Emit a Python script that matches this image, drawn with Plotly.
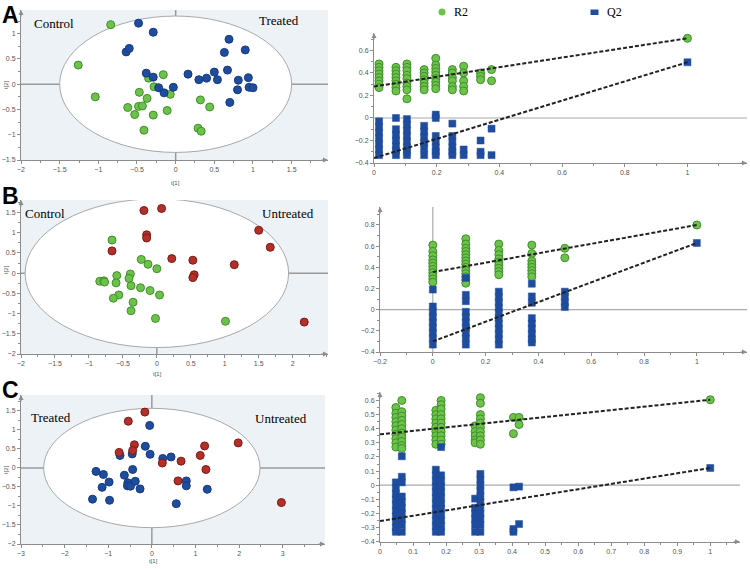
import plotly.graph_objects as go

W, H = 750, 569

# ---------------- data: score plots ----------------
A_ctrl_t1 = [-0.84, -1.26, -1.04, -0.47, -0.35, -0.16, -0.28, -0.37, -0.07, -0.62, -0.48, -0.43, -0.53, -0.29, -0.11, -0.41, 0.32, 0.44, 0.29, 0.33]
A_ctrl_t2 = [1.18, 0.38, -0.25, -0.16, 0.12, 0.19, -0.05, -0.28, -0.20, -0.46, -0.44, -0.43, -0.60, -0.61, -0.52, -0.91, -0.31, -0.45, -0.87, -0.93]
A_trt_t1 = [-0.48, -0.29, -0.64, -0.60, -0.38, -0.29, -0.22, -0.15, -0.03, 0.16, 0.30, 0.40, 0.50, 0.54, 0.67, 0.63, 0.69, 0.90, 0.81, 0.80, 0.70, 0.94, 0.95, 1.00]
A_trt_t2 = [1.21, 1.03, 0.64, 0.71, 0.22, 0.14, -0.07, -0.17, -0.06, 0.20, 0.09, 0.12, 0.24, 0.09, 0.28, 0.63, 0.89, 0.68, 0.08, -0.11, -0.36, 0.13, -0.06, -0.07]

B_ctrl_t1 = [-0.66, -0.23, -0.13, 0.00, -0.59, -0.39, -0.84, -0.78, -0.77, -0.60, -0.41, -0.38, -0.24, -0.10, 0.04, -0.56, -0.64, -0.35, -0.38, -0.02, 1.01]
B_ctrl_t2 = [0.82, 0.34, 0.22, 0.11, -0.06, -0.02, -0.20, -0.19, -0.22, -0.24, -0.13, -0.31, -0.36, -0.43, -0.54, -0.54, -0.62, -0.72, -0.93, -1.12, -1.19]
B_unt_t1 = [-0.19, 0.07, -0.15, -0.15, -0.66, 0.22, 0.53, 0.55, 0.53, 1.14, 1.50, 1.67, 2.17]
B_unt_t2 = [1.55, 1.60, 0.95, 0.87, 0.55, 0.36, 0.32, -0.04, -0.11, 0.21, 1.06, 0.64, -1.21]

C_trt_t1 = [-0.05, -0.15, -0.04, -0.73, -0.45, 0.25, 0.44, -1.28, -1.11, -0.44, -0.63, -0.98, -1.14, -0.55, -0.56, -0.49, -0.38, -0.27, -1.36, -0.97, 0.79, 0.79, 1.27, 0.56]
C_trt_t2 = [1.12, 0.57, 0.36, 0.33, 0.37, 0.25, 0.29, -0.09, -0.17, -0.04, -0.19, -0.37, -0.51, -0.39, -0.47, -0.48, -0.35, -0.55, -0.82, -0.85, -0.34, -0.47, -0.56, -0.94]
C_unt_t1 = [-0.16, -0.54, -0.40, -0.44, -0.75, 0.24, 0.67, 0.60, 1.21, 1.11, 1.24, 1.98, 2.97]
C_unt_t2 = [1.47, 1.23, 0.61, 0.46, 0.41, 0.13, 0.18, -0.34, 0.58, 0.33, -0.04, 0.66, -0.91]

# ---------------- data: permutation plots ----------------
A_cols = [0.016, 0.07, 0.105, 0.16, 0.197, 0.25, 0.286, 0.34, 0.375, 1.0]
A_r2 = [
    [0.48, 0.45, 0.42, 0.39, 0.36, 0.33, 0.30, 0.27],
    [0.45, 0.42, 0.39, 0.36, 0.33, 0.30, 0.27, 0.24],
    [0.48, 0.45, 0.42, 0.38, 0.35, 0.31, 0.28, 0.25, 0.17],
    [0.43, 0.40, 0.37, 0.34, 0.31, 0.28, 0.25],
    [0.53, 0.47, 0.44, 0.41, 0.38, 0.35, 0.32, 0.29, 0.26],
    [0.43, 0.40, 0.36, 0.33, 0.28, 0.25],
    [0.46, 0.40, 0.33, 0.28, 0.24],
    [0.40, 0.37, 0.34],
    [0.43, 0.33],
    [0.708],
]
A_q2 = [
    [-0.03, -0.08, -0.13, -0.18, -0.23, -0.28, -0.33],
    [0.00, -0.10, -0.15, -0.20, -0.25, -0.29, -0.33],
    [-0.01, -0.06, -0.11, -0.16, -0.21, -0.26, -0.30, -0.33],
    [-0.07, -0.12, -0.17, -0.22, -0.27, -0.33],
    [0.03, 0.00, -0.16, -0.21, -0.26, -0.30, -0.33],
    [-0.05, -0.16, -0.21, -0.26, -0.30, -0.33],
    [-0.28, -0.33],
    [-0.20, -0.30, -0.33],
    [-0.095, -0.33],
    [0.495],
]
A_fit_r2 = [0.28, 0.708]
A_fit_q2 = [-0.356, 0.495]

B_cols = [0.0, 0.125, 0.25, 0.375, 0.5, 1.0]
B_r2 = [
    [0.61, 0.55, 0.51, 0.47, 0.44, 0.41, 0.38, 0.35, 0.32, 0.29, 0.26],
    [0.67, 0.62, 0.58, 0.55, 0.52, 0.49, 0.46, 0.43, 0.40, 0.37, 0.34, 0.31, 0.28, 0.25],
    [0.62, 0.56, 0.52, 0.48, 0.45, 0.42, 0.39, 0.36, 0.33],
    [0.61, 0.53, 0.46, 0.43, 0.40, 0.37, 0.34, 0.31],
    [0.58, 0.49],
    [0.80],
]
B_q2 = [
    [0.19, 0.03, -0.02, -0.07, -0.12, -0.17, -0.22, -0.27, -0.33],
    [0.30, 0.14, 0.08, -0.02, -0.07, -0.12, -0.17, -0.22, -0.27, -0.33],
    [0.17, 0.12, 0.07, 0.02, -0.03, -0.08, -0.13, -0.18, -0.23, -0.28, -0.33],
    [0.245, 0.125, 0.065, -0.08, -0.13, -0.18, -0.23, -0.28, -0.31],
    [0.17, 0.12, 0.07, 0.025],
    [0.63],
]
B_fit_r2 = [0.355, 0.80]
B_fit_q2 = [-0.30, 0.63]

C_cols = [0.048, 0.066, 0.169, 0.185, 0.288, 0.304, 0.404, 0.421, 1.0]
C_r2 = [
    [0.55, 0.51, 0.48, 0.45, 0.42, 0.39, 0.36, 0.33, 0.30, 0.27],
    [0.60, 0.52, 0.49, 0.46, 0.43, 0.40, 0.37, 0.34, 0.31, 0.28, 0.26],
    [0.53, 0.50, 0.47, 0.44, 0.41, 0.38, 0.35, 0.32, 0.29],
    [0.60, 0.57, 0.54, 0.50, 0.47, 0.44, 0.41, 0.38, 0.35, 0.32, 0.29],
    [0.42, 0.38, 0.35, 0.32, 0.30],
    [0.62, 0.58, 0.50, 0.47, 0.44, 0.41, 0.38, 0.35, 0.32, 0.29],
    [0.48, 0.365],
    [0.48, 0.43],
    [0.605],
]
C_q2 = [
    [0.02, -0.02, -0.06, -0.10, -0.14, -0.18, -0.22, -0.26, -0.30, -0.33],
    [0.205, 0.06, 0.02, -0.08, -0.12, -0.16, -0.20, -0.24, -0.28, -0.33],
    [0.11, 0.07, 0.03, -0.01, -0.05, -0.09, -0.13, -0.17, -0.21, -0.25, -0.29, -0.33],
    [0.27, 0.07, 0.03, -0.01, -0.05, -0.09, -0.13, -0.17, -0.21, -0.25, -0.29, -0.33],
    [-0.095, -0.16, -0.20, -0.24, -0.28, -0.33],
    [0.08, 0.04, 0.00, -0.04, -0.08, -0.12, -0.16, -0.20, -0.24, -0.28, -0.33],
    [-0.015, -0.31, -0.33],
    [-0.01, -0.275],
    [0.122],
]
C_fit_r2 = [0.36, 0.605]
C_fit_q2 = [-0.254, 0.122]
fit_x = [0, 1]

# tick labels
A_score_xticks = [-2, -1.5, -1, -0.5, 0, 0.5, 1, 1.5]
A_score_yticks = [-1.5, -1, -0.5, 0, 0.5, 1]
B_score_xticks = [-2, -1.5, -1, -0.5, 0, 0.5, 1, 1.5, 2]
B_score_yticks = [-2, -1.5, -1, -0.5, 0, 0.5, 1, 1.5]
C_score_xticks = [-3, -2, -1, 0, 1, 2, 3]
C_score_yticks = [-2, -1.5, -1, -0.5, 0, 0.5, 1, 1.5]
A_perm_xticks = [0, 0.2, 0.4, 0.6, 0.8, 1]
A_perm_yticks = [-0.4, -0.2, 0, 0.2, 0.4, 0.6]
B_perm_xticks = [-0.2, 0, 0.2, 0.4, 0.6, 0.8, 1]
B_perm_yticks = [-0.4, -0.2, 0, 0.2, 0.4, 0.6, 0.8]
C_perm_xticks = [0, 0.1, 0.2, 0.3, 0.4, 0.5, 0.6, 0.7, 0.8, 0.9, 1]
C_perm_yticks = [-0.4, -0.3, -0.2, -0.1, 0, 0.1, 0.2, 0.3, 0.4, 0.5, 0.6]

# ---------------- styling ----------------
GREEN = "#6cc24a"; GREEN_EDGE = "#3f8f2a"
BLUE = "#1f4c9e"; BLUE_EDGE = "#163a7d"
RED = "#b3302a"; RED_EDGE = "#7a1a15"
AXC = "#8c8c8c"
TICKF = dict(family="Liberation Sans", size=7, color="#555")
SERIF = "Liberation Serif"

def flat(cols, vals):
    xs, ys = [], []
    for c, vs in zip(cols, vals):
        for v in vs:
            xs.append(c); ys.append(v)
    return xs, ys

def dx(p0, p1):
    return [p0 / W, p1 / W]

def dy(top, bottom):
    return [1 - bottom / H, 1 - top / H]

fig = go.Figure()

panels = [
    ("", (21, 328), (10, 160), [-2, 1.97], [-1.5, 1.47], A_score_xticks, 0.25, A_score_yticks, 0.25),
    ("2", (374, 747), (33, 163), [0, 1.19], [-0.4, 0.755], A_perm_xticks, 0.1, A_perm_yticks, 0.1),
    ("3", (21, 328), (200, 354), [-2, 2.52], [-2, 1.81], B_score_xticks, 0.25, B_score_yticks, 0.25),
    ("4", (380, 747), (207, 352), [-0.2, 1.19], [-0.4, 0.97], B_perm_xticks, 0.1, B_perm_yticks, 0.1),
    ("5", (21, 325), (395, 544), [-3, 3.97], [-2, 1.92], C_score_xticks, 0.5, C_score_yticks, 0.25),
    ("6", (380, 740), (392, 541.7), [0, 1.09], [-0.4, 0.66], C_perm_xticks, 0.05, C_perm_yticks, 0.05),
]

layout_axes = {}
shapes = []
annotations = []
for suf, xp, yp, xr, yr, xtv, xmn, ytv, ymn in panels:
    xa = "x" + suf; ya = "y" + suf
    common = dict(showline=True, linecolor=AXC, linewidth=1, ticks="outside", ticklen=3,
                  tickcolor=AXC, tickfont=TICKF, showgrid=False, zeroline=False,
                  fixedrange=True, automargin=False)
    layout_axes["xaxis" + suf] = dict(domain=dx(*xp), range=xr, anchor=ya, tickmode="array", tickvals=xtv,
                                      minor=dict(ticks="outside", ticklen=2, tickcolor=AXC, dtick=xmn, tick0=0),
                                      **common)
    layout_axes["yaxis" + suf] = dict(domain=dy(*yp), range=yr, anchor=xa, tickmode="array", tickvals=ytv,
                                      minor=dict(ticks="outside", ticklen=2, tickcolor=AXC, dtick=ymn, tick0=0),
                                      **common)
    annotations.append(dict(x=xr[1], y=yr[0], xref=xa, yref=ya, text="", showarrow=True,
                            ax=-8, ay=0, arrowhead=2, arrowsize=1, arrowwidth=1, arrowcolor=AXC))
    annotations.append(dict(x=xr[0], y=yr[1], xref=xa, yref=ya, text="", showarrow=True,
                            ax=0, ay=8, arrowhead=2, arrowsize=1, arrowwidth=1, arrowcolor=AXC))

ellipses = {"": (1.5, 1.35), "3": (1.94, 1.84), "5": (2.48, 1.57)}
for suf, (a, b) in ellipses.items():
    xa = "x" + suf; ya = "y" + suf
    shapes.append(dict(type="rect", xref=xa + " domain", yref=ya + " domain", x0=0, x1=1, y0=0, y1=1,
                       fillcolor="#edf2f7", line=dict(width=0), layer="below"))
    shapes.append(dict(type="circle", xref=xa, yref=ya, x0=-a, x1=a, y0=-b, y1=b,
                       fillcolor="white", line=dict(color="#a8a8a8", width=1), layer="below"))
    shapes.append(dict(type="line", xref=xa + " domain", yref=ya, x0=0, x1=1, y0=0, y1=0,
                       line=dict(color="#9a9a9a", width=1.5), layer="below"))
    shapes.append(dict(type="line", xref=xa, yref=ya + " domain", x0=0, x1=0, y0=0, y1=1,
                       line=dict(color="#9a9a9a", width=1.5), layer="below"))

for suf in ["2", "4", "6"]:
    xa = "x" + suf; ya = "y" + suf
    shapes.append(dict(type="line", xref=xa + " domain", yref=ya, x0=0, x1=1, y0=0, y1=0,
                       line=dict(color="#aaaaaa", width=1.2), layer="below"))
shapes.append(dict(type="line", xref="x4", yref="y4 domain", x0=0, x1=0, y0=0, y1=1,
                   line=dict(color="#aaaaaa", width=1.2), layer="below"))

def score(xs, ys, col, edge, suf):
    fig.add_trace(go.Scatter(x=xs, y=ys, mode="markers", xaxis="x" + suf, yaxis="y" + suf,
                             marker=dict(size=8, color=col, line=dict(color=edge, width=1)),
                             showlegend=False, hoverinfo="skip"))

score(A_ctrl_t1, A_ctrl_t2, GREEN, GREEN_EDGE, "")
score(A_trt_t1, A_trt_t2, BLUE, BLUE_EDGE, "")
score(B_ctrl_t1, B_ctrl_t2, GREEN, GREEN_EDGE, "3")
score(B_unt_t1, B_unt_t2, RED, RED_EDGE, "3")
score(C_trt_t1, C_trt_t2, BLUE, BLUE_EDGE, "5")
score(C_unt_t1, C_unt_t2, RED, RED_EDGE, "5")

def perm(cols, r2, q2, fr2, fq2, suf):
    xa = "x" + suf; ya = "y" + suf
    rx, ry = flat(cols, r2)
    qx, qy = flat(cols, q2)
    fig.add_trace(go.Scatter(x=rx, y=ry, mode="markers", xaxis=xa, yaxis=ya,
                             marker=dict(size=8, color=GREEN, line=dict(color=GREEN_EDGE, width=1)),
                             showlegend=False, hoverinfo="skip", cliponaxis=False))
    fig.add_trace(go.Scatter(x=qx, y=qy, mode="markers", xaxis=xa, yaxis=ya,
                             marker=dict(size=7, symbol="square", color=BLUE, line=dict(color=BLUE, width=0.5)),
                             showlegend=False, hoverinfo="skip", cliponaxis=False))
    for fy in (fr2, fq2):
        fig.add_trace(go.Scatter(x=fit_x, y=fy, mode="lines", xaxis=xa, yaxis=ya,
                                 line=dict(color="#222", width=2, dash="4px,2px"),
                                 showlegend=False, hoverinfo="skip"))

perm(A_cols, A_r2, A_q2, A_fit_r2, A_fit_q2, "2")
perm(B_cols, B_r2, B_q2, B_fit_r2, B_fit_q2, "4")
perm(C_cols, C_r2, C_q2, C_fit_r2, C_fit_q2, "6")

shapes.append(dict(type="circle", xref="paper", yref="paper", x0=438.5 / W, x1=445.5 / W,
                   y0=1 - 15.5 / H, y1=1 - 8.5 / H, fillcolor=GREEN, line=dict(width=0)))
shapes.append(dict(type="rect", xref="paper", yref="paper", x0=590.5 / W, x1=598.5 / W,
                   y0=1 - 15 / H, y1=1 - 9.5 / H, fillcolor=BLUE, line=dict(width=0)))

def ptext(txt, x, y, size=13, family=SERIF, xanchor="center", yanchor="middle", color="black", angle=0):
    annotations.append(dict(text=txt, x=x / W, y=1 - y / H, xref="paper", yref="paper", showarrow=False,
                            xanchor=xanchor, yanchor=yanchor, textangle=angle,
                            font=dict(family=family, size=size, color=color)))

ptext("R2", 452, 12, size=12, xanchor="left")
ptext("Q2", 605, 12, size=12, xanchor="left")

ptext("Control", 54, 23)
ptext("Treated", 279, 21)
ptext("Control", 45, 213)
ptext("Untreated", 288, 214)
ptext("Treated", 51, 417)
ptext("Untreated", 281, 418)

ptext("<b>A</b>", 0, 15, size=23, family="Liberation Sans", xanchor="left")
ptext("<b>B</b>", 0, 196, size=23, family="Liberation Sans", xanchor="left")
ptext("<b>C</b>", 0, 390, size=23, family="Liberation Sans", xanchor="left")

for (tx, ty), (sx, sy) in [((175, 183), (6, 85)), ((157, 374), (6, 270)), ((153, 561), (6, 470))]:
    ptext("t[1]", tx, ty, size=6, family="Liberation Sans", color="#555")
    ptext("t[2]", sx, sy, size=6, family="Liberation Sans", color="#555", angle=-90)

fig.update_layout(
    width=W, height=H, margin=dict(l=0, r=0, t=0, b=0, autoexpand=False),
    paper_bgcolor="white", plot_bgcolor="rgba(0,0,0,0)",
    showlegend=False, shapes=shapes, annotations=annotations,
    **layout_axes,
)

fig.write_html("out.html", config={"displayModeBar": False},
               post_script="document.body.style.margin='0px';document.body.style.overflow='hidden';")
